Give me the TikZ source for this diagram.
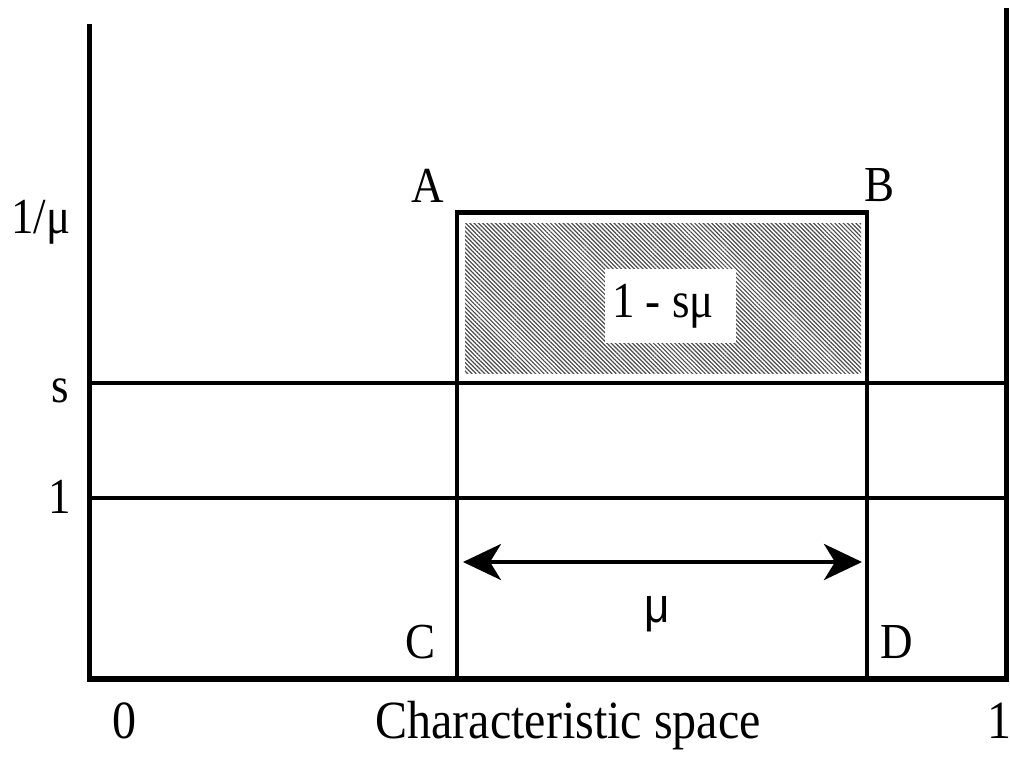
\documentclass[tikz,border=0pt]{standalone}
\usepackage{graphicx}
\usepackage{fontspec}
\setmainfont{Liberation Serif}
\newfontfamily\sansmu{Liberation Sans}
\newcommand\tallt[1]{\scalebox{1}[1.12]{#1}}
\usetikzlibrary{arrows.meta,patterns.meta}
\begin{document}
\begin{tikzpicture}[x=1pt,y=-1pt,
  lbl/.style={anchor=base,inner sep=0pt,font=\fontsize{45}{48}\selectfont},
  big lbl/.style={lbl,font=\fontsize{48}{52}\selectfont},
  axis/.style={line width=5pt},
  thin line/.style={line width=4pt},
  dim/.style={line width=4pt,{Stealth[length=38pt,width=36pt,inset=11pt]}-{Stealth[length=38pt,width=36pt,inset=11pt]}}]
\useasboundingbox (0,0) rectangle (1010,763);
% shaded area
\fill[pattern={Lines[angle=-45,distance=3pt,line width=1.2pt]},pattern color=black!70] (465,223) rectangle (861,373);
\fill[white] (605,269) rectangle (736,343);
% axes
\coordinate (lt) at (89.5,24);
\coordinate (rt) at (1006.5,8);
\coordinate (lb) at (89.5,681.5);
\coordinate (rb) at (1006.5,681.5);
\draw[axis] (lt) -- (lb);
\draw[axis] (rt) -- (rb);
\coordinate (bl) at (87,679);
\coordinate (br) at (1009,679);
\draw[line width=6pt] (bl) -- (br);
% horizontal lines
\coordinate (sL) at (89.5,382.5);
\coordinate (sR) at (1006.5,382.5);
\coordinate (oL) at (89.5,497.5);
\coordinate (oR) at (1006.5,497.5);
\draw[thin line] (sL) -- (sR);
\draw[thin line] (oL) -- (oR);
% rectangle
\coordinate (pA) at (457,212.5);
\coordinate (pB) at (867,212.5);
\coordinate (pC) at (457,679);
\coordinate (pD) at (867,679);
\draw[thin line] (pC) -- (pA) -- (pB) -- (pD);
\draw[line width=5pt] ([xshift=-2pt]pA) -- ([xshift=2pt]pB);
% arrow
\coordinate (aL) at (463,562);
\coordinate (aR) at (862,562);
\draw[dim] (aL) -- (aR);
% labels
\node[lbl] (A) at (428,202) {\tallt{A}};
\node[lbl] (B) at (879,201) {\tallt{B}};
\node[lbl] (C) at (421,658) {\tallt{C}};
\node[lbl] (D) at (897,658) {\tallt{D}};
\node[lbl] (mu) at (41,233) {\tallt{1/μ}};
\node[lbl] (s) at (60,402) {\tallt{s}};
\node[lbl] (one) at (60,513) {\tallt{1}};
\node[lbl] (area) at (663,317) {\tallt{1 - sμ}};
\node[lbl,font=\sansmu\fontsize{44}{48}\selectfont] (w) at (657,622) {\tallt{μ}};
\node[big lbl] (zero) at (124,738) {\tallt{0}};
\node[big lbl] (xlab) at (568,738) {\tallt{Characteristic space}};
\node[big lbl] (oneR) at (999,738) {\tallt{1}};
\end{tikzpicture}
\end{document}
